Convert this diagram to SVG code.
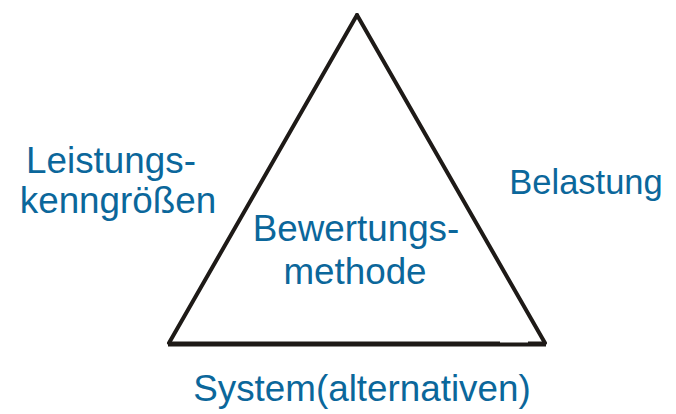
<svg xmlns="http://www.w3.org/2000/svg" width="676" height="414" viewBox="0 0 676 414">
<style>
.t{font-family:"Liberation Sans",Arial,sans-serif;font-size:36.8px;fill:#0b679b;text-anchor:middle}
.e{stroke:#1e1a17;stroke-width:4;fill:none;stroke-linecap:round}
</style>
<rect width="676" height="414" fill="#fff"/>
<g id="connectors">
<line class="e" x1="169" y1="343" x2="357" y2="15"/>
<line class="e" x1="357" y1="15" x2="545" y2="343"/>
<path d="M168 341.5H500V342.5H528V341.5H546V346.5H168Z" fill="#1e1a17"/>
</g>
<g id="n1"><text class="t" x="111" y="173">Leistungs-</text><text class="t" x="118" y="213">kenngrößen</text></g>
<g id="n2"><text class="t" x="586" y="194" style="font-size:34.5px">Belastung</text></g>
<g id="n3"><text class="t" x="356" y="241">Bewertungs-</text><text class="t" x="355" y="284">methode</text></g>
<g id="n4"><text class="t" x="362" y="401">System(alternativen)</text></g>
</svg>
